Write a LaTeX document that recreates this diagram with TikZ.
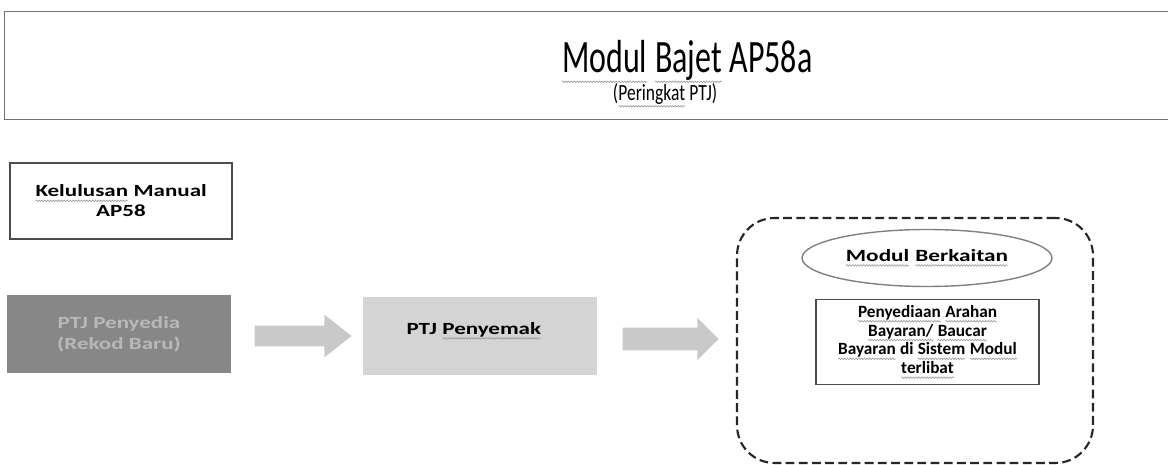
\documentclass[tikz,border=0pt]{standalone}
\usepackage{fontspec}
\setmainfont{Carlito}
\newfontfamily\ttlfont[FakeStretch=0.69]{Carlito}
\newfontfamily\subfont[FakeStretch=0.755]{Carlito}
\newfontfamily\widefont[FakeStretch=1.35]{Carlito}
\usetikzlibrary{positioning,shapes.geometric,shapes.arrows,decorations.pathmorphing}
\tikzset{
  hdrbox/.style={minimum width=23.26cm,minimum height=2.14cm,inner sep=0pt},
  hdrline/.style={draw=black!55,line width=0.8pt},
  hdrtxt/.style={font=\ttlfont\fontsize{26.4}{30}\selectfont,inner sep=0pt,anchor=base},
  subtxt/.style={font=\subfont\fontsize{13.2}{15}\selectfont,inner sep=0pt,anchor=base},
  plainbox/.style={draw=black!70,line width=0.7pt,minimum width=4.44cm,
    minimum height=1.52cm,align=center,font=\widefont\bfseries\fontsize{9.7}{11.3}\selectfont},
  darkbox/.style={fill=black!47,text=black!28,minimum width=4.48cm,
    minimum height=1.56cm,align=center,font=\widefont\bfseries\fontsize{9.7}{11.8}\selectfont},
  lightbox/.style={fill=black!17,minimum width=4.68cm,minimum height=1.56cm},
  boxtxt/.style={font=\widefont\bfseries\fontsize{9.7}{11.8}\selectfont,inner sep=0pt},
  fatarrow/.style={single arrow,fill=black!21,inner xsep=0pt,inner ysep=0.2cm,
    single arrow head extend=0.22cm},
  grpbox/.style={draw=black!85,dash pattern=on 5pt off 2.5pt,line width=1.2pt,
    rounded corners=0.75cm,minimum width=7.12cm,minimum height=4.9cm},
  ovl/.style={ellipse,draw=black!50,line width=0.8pt,minimum width=5cm,
    minimum height=1.14cm,font=\widefont\bfseries\fontsize{9.8}{11.8}\selectfont},
  txtbox/.style={draw=black!70,line width=0.7pt,minimum width=4.46cm,
    minimum height=1.6cm,align=center,font=\bfseries\fontsize{9.8}{9.5}\selectfont},
  sqline/.style={draw=black!40,solid,line width=0.35pt,sharp corners,
    decorate,decoration={snake,segment length=1.6pt,amplitude=0.45pt}},
}
% wavy spell-check line under a word
\newcommand\squig[2][2.2pt]{\tikz[baseline=(sq.base)]{\node[rectangle,draw=none,fill=none,
  inner sep=0pt,outer sep=0pt,minimum width=0pt,minimum height=0pt,anchor=base] (sq) {#2};
  \draw[sqline] ([yshift=-#1]sq.base west) -- ([yshift=-#1]sq.base east);}}
\begin{document}
\begin{tikzpicture}[x=0.02cm,y=-0.02cm]
  \useasboundingbox (0,0) rectangle (1168,465);
  % header
  \node[hdrbox] (hdr) at (586.5,65.5) {};
  \draw[hdrline] (hdr.north east) -- (hdr.north west) -- (hdr.south west) -- (hdr.south east);
  \node[hdrtxt] (ttl) at (687,73) {\squig[5pt]{Modul} \squig[5pt]{Bajet} AP58a};
  \node[subtxt] (subttl) at (665,101) {(\squig[3pt]{Peringkat} PTJ)};
  % left column
  \node[plainbox] (lulus) at (121,201) {\squig{Kelulusan} Manual\\AP58};
  \node[darkbox] (sedia) at (119,334) {PTJ Penyedia\\(Rekod Baru)};
  \node[fatarrow,minimum height=1.94cm,single arrow tip angle=76] (a1) at (296.5,336) {};
  \node[lightbox] (semak) at (480,336) {};
  \node[boxtxt] (semaktxt) at (474,331) {PTJ \squig{Penyemak}};
  \node[fatarrow,minimum height=1.92cm,inner ysep=0.22cm,single arrow head extend=0.2cm,
    single arrow tip angle=90] (a2) at (665,339) {};
  % related modules
  \node[grpbox] (grp) at (915,340.5) {};
  \node[ovl] (berk) at (927,258) {\squig{Modul} \squig{Berkaitan}};
  \node[txtbox] (arahan) at (927.5,342) {\squig{Penyediaan} \squig{Arahan}\\
    \squig{Bayaran/} \squig{Baucar}\\\squig{Bayaran} di \squig{Sistem} \squig{Modul}\\\squig{terlibat}};
\end{tikzpicture}
\end{document}
